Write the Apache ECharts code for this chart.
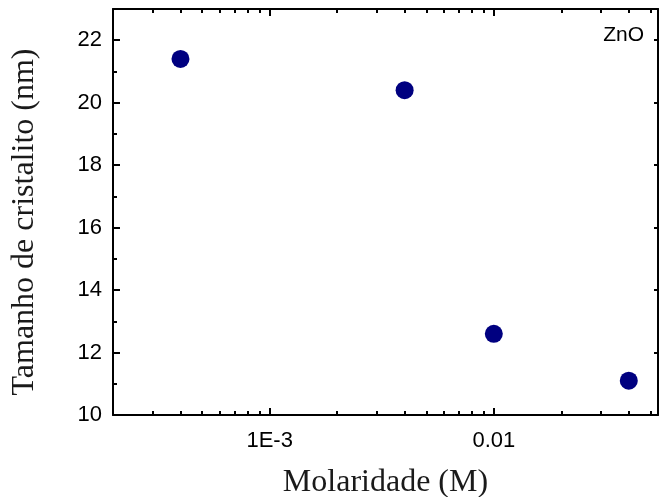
<!DOCTYPE html>
<html>
<head>
<meta charset="utf-8">
<script src="https://cdn.jsdelivr.net/npm/echarts@6/dist/echarts.min.js"></script>
<style>
html,body{margin:0;padding:0;background:#fff;}
#chart{width:660px;height:497px;}
</style>
</head>
<body>
<div id="chart"></div>
<script>
// ---- data ----
const molarity = [4e-4, 4e-3, 0.01, 0.04];
const crystalSize = [21.4, 20.4, 12.6, 11.1];
const xMin = 2e-4, xMax = 0.054;
const yMin = 10, yMax = 23;
const xMajorTicks = [1e-3, 1e-2];
const xMinorTicks = [3e-4,4e-4,5e-4,6e-4,7e-4,8e-4,9e-4,
                     2e-3,3e-3,4e-3,5e-3,6e-3,7e-3,8e-3,9e-3,
                     2e-2,3e-2,4e-2,5e-2];
const yMajorTicks = [10,12,14,16,18,20,22];
const yMinorTicks = [11,13,15,17,19,21];
const xLabels = {'0.001':'1E-3','0.01':'0.01'};

const lg = v => Math.log10(v);
const black = '#000';
const lineStyle = {color: black, width: 2};
const tickFont = {fontFamily: 'Liberation Sans, Arial, sans-serif', fontSize: 22, color: '#000'};
const nameFont = {fontFamily: 'Liberation Serif, Times New Roman, serif', fontSize: 32, color: '#1a1a1a'};

const chart = echarts.init(document.getElementById('chart'), null, {renderer: 'canvas'});
const option = {
  animation: false,
  backgroundColor: '#fff',
  grid: {left: 113, right: 2, top: 9, bottom: 82, containLabel: false, outerBoundsMode: 'none'},
  xAxis: [
    {
      type: 'log', logBase: 10, min: xMin, max: xMax, position: 'bottom',
      name: 'Molaridade (M)', nameLocation: 'middle', nameGap: 52, nameTextStyle: nameFont,
      axisLine: {show: true, onZero: false, lineStyle: lineStyle},
      axisTick: {show: true, inside: true, length: 7, lineStyle: {color: black, width: 2},
                 customValues: xMajorTicks},
      axisLabel: Object.assign({margin: 15, customValues: xMajorTicks,
        formatter: v => xLabels[String(+v.toPrecision(6))] || ''}, tickFont),
      splitLine: {show: false}
    },
    {
      type: 'value', min: lg(xMin), max: lg(xMax), position: 'bottom',
      axisLine: {show: false, onZero: false},
      axisTick: {show: true, inside: true, length: 4, lineStyle: {color: black, width: 2},
                 customValues: xMinorTicks.map(lg)},
      axisLabel: {show: false}, splitLine: {show: false}
    },
    {
      type: 'log', logBase: 10, min: xMin, max: xMax, position: 'top',
      axisLine: {show: true, onZero: false, lineStyle: lineStyle},
      axisTick: {show: true, inside: true, length: 7, lineStyle: {color: black, width: 2},
                 customValues: xMajorTicks},
      axisLabel: {show: false}, splitLine: {show: false}
    },
    {
      type: 'value', min: lg(xMin), max: lg(xMax), position: 'top',
      axisLine: {show: false, onZero: false},
      axisTick: {show: true, inside: true, length: 4, lineStyle: {color: black, width: 2},
                 customValues: xMinorTicks.map(lg)},
      axisLabel: {show: false}, splitLine: {show: false}
    }
  ],
  yAxis: [
    {
      type: 'value', min: yMin, max: yMax, position: 'left',
      name: 'Tamanho de cristalito (nm)', nameLocation: 'middle', nameGap: 72,
      nameTextStyle: Object.assign({padding: [0, 20, 0, 0]}, nameFont),
      axisLine: {show: true, onZero: false, lineStyle: lineStyle},
      axisTick: {show: true, inside: true, length: 7, lineStyle: {color: black, width: 2},
                 customValues: yMajorTicks},
      axisLabel: Object.assign({margin: 11, customValues: yMajorTicks}, tickFont),
      splitLine: {show: false}
    },
    {
      type: 'value', min: yMin, max: yMax, position: 'left',
      axisLine: {show: false, onZero: false},
      axisTick: {show: true, inside: true, length: 4, lineStyle: {color: black, width: 2},
                 customValues: yMinorTicks},
      axisLabel: {show: false}, splitLine: {show: false}
    },
    {
      type: 'value', min: yMin, max: yMax, position: 'right',
      axisLine: {show: true, onZero: false, lineStyle: lineStyle},
      axisTick: {show: true, inside: true, length: 4, lineStyle: {color: black, width: 2},
                 customValues: yMajorTicks},
      axisLabel: {show: false}, splitLine: {show: false}
    }
  ],
  graphic: [{
    type: 'text', right: 16, top: 25,
    style: {text: 'ZnO', fontFamily: 'Liberation Sans, Arial, sans-serif', fontSize: 21, fill: '#000'}
  }],
  series: [{
    type: 'scatter', xAxisIndex: 0, yAxisIndex: 0,
    symbol: 'circle', symbolSize: 18,
    itemStyle: {color: '#000080', opacity: 1},
    data: molarity.map((m, i) => [m, crystalSize[i]])
  }]
};
chart.setOption(option);
</script>
</body>
</html>
